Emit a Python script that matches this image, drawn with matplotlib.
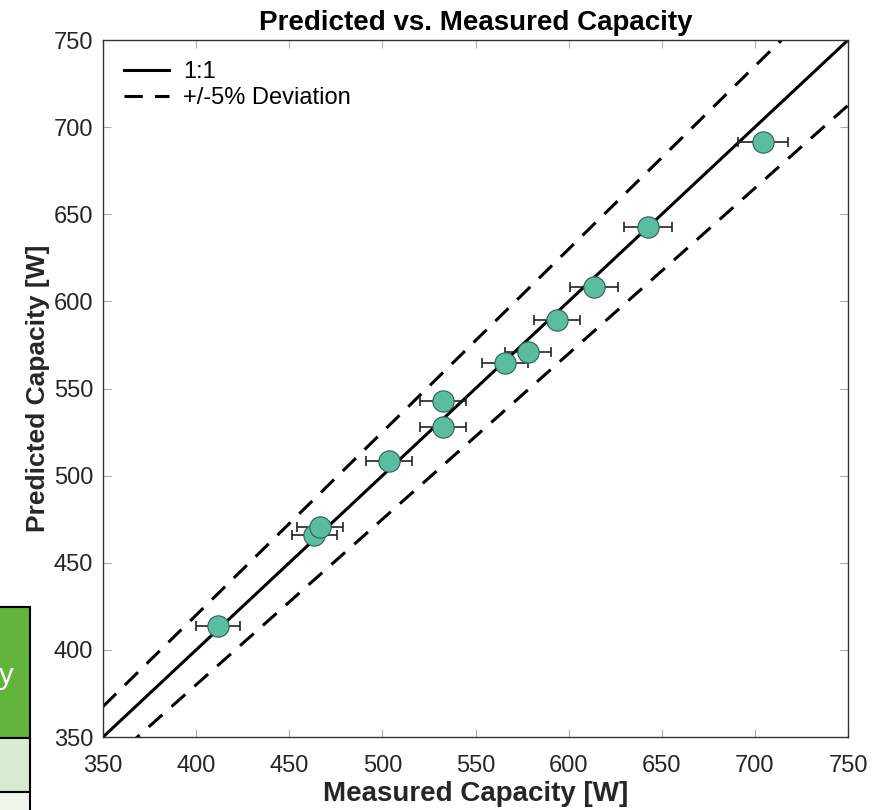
import numpy as np
import matplotlib.pyplot as plt
from matplotlib.patches import Rectangle

plt.rcParams['font.family'] = ['Liberation Sans', 'DejaVu Sans']

# measured vs predicted capacity [W], with measurement uncertainty
measured = [411.7, 463.5, 466.5, 503.6, 532.6, 532.6, 565.8, 578.2, 593.8, 613.6, 642.6, 704.4]
predicted = [413.7, 465.9, 470.5, 508.4, 527.9, 542.8, 564.6, 570.9, 589.3, 608.3, 642.7, 691.5]
meas_err = [12.0, 12.3, 12.3, 12.3, 12.3, 12.3, 12.5, 12.5, 12.5, 12.8, 12.8, 13.4]

lims = [350, 750]
ticks = [350, 400, 450, 500, 550, 600, 650, 700, 750]
dev = 0.05

fig = plt.figure(figsize=(8.92, 8.10), dpi=100)
ax = fig.add_axes([0.1155, 0.0901, 0.8352, 0.8605])

ref = np.array(lims, dtype=float)
dash = (0, (6, 4))
ax.plot(ref, ref, color='black', lw=2.2, label='1:1', zorder=2)
ax.plot(ref, ref * (1 + dev), color='black', lw=2.2, ls=dash,
        label='+/-5% Deviation', zorder=2)
ax.plot(ref, ref * (1 - dev), color='black', lw=2.2, ls=dash, zorder=2)

ax.errorbar(measured, predicted, xerr=meas_err, fmt='none', ecolor='#222222',
            elinewidth=1.2, capsize=3.5, capthick=1.2, zorder=3)
ax.scatter(measured, predicted, s=235, color='#5BBDA0', edgecolor='#2f5f52',
           linewidth=0.8, zorder=4)

ax.set_xlim(lims)
ax.set_ylim(lims)
ax.set_xticks(ticks)
ax.set_yticks(ticks)
ax.tick_params(direction='in', top=True, right=True, length=6, width=0.8,
               colors='#aaaaaa', labelcolor='#262626', labelsize=17)
ax.tick_params(axis='x', pad=13)
ax.tick_params(axis='y', pad=7)
for s in ax.spines.values():
    s.set_color('#333333')
    s.set_linewidth(1.0)

ax.set_title('Predicted vs. Measured Capacity', fontsize=20, fontweight='bold', pad=7)
ax.set_xlabel('Measured Capacity [W]', fontsize=20, fontweight='bold', color='#262626', labelpad=3)
ax.set_ylabel('Predicted Capacity [W]', fontsize=19, fontweight='bold', color='#262626', labelpad=3)

leg = ax.legend(loc='upper left', frameon=False, fontsize=17, handlelength=1.9,
                handletextpad=0.6, borderaxespad=0.5, labelspacing=0.15)

# partial table at the lower left edge
W, H = 892.0, 810.0
cells = [(607, 738, '#63B43D'), (738, 792, '#D9EAD3'), (792, 830, '#EEF6EB')]
for top, bot, col in cells:
    fig.patches.append(Rectangle((-0.01, 1 - bot / H), 30 / W + 0.01, (bot - top) / H,
                                 transform=fig.transFigure, facecolor=col,
                                 edgecolor='black', linewidth=1.5))
fig.text(6 / W, 1 - 676 / H, 'y', color='white', fontsize=21, ha='center', va='center')

fig.savefig('out.png', dpi=100)
